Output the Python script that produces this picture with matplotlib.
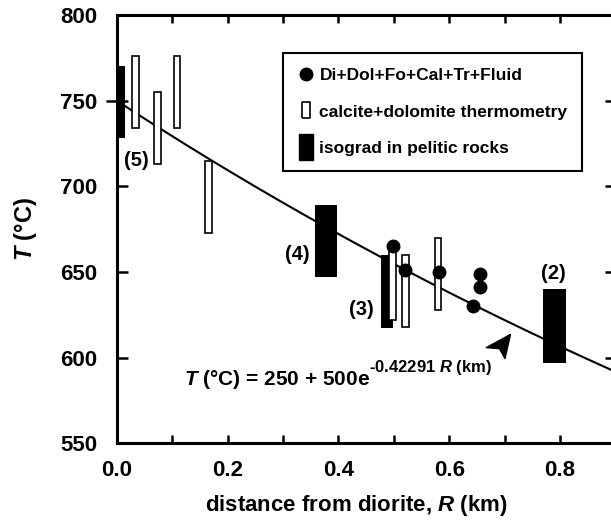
import numpy as np
import matplotlib
matplotlib.use("Agg")
import matplotlib.pyplot as plt
from matplotlib.lines import Line2D
from matplotlib.markers import MarkerStyle

plt.rcParams["font.family"] = ["Liberation Sans", "DejaVu Sans"]
plt.rcParams["font.weight"] = "bold"
plt.rcParams["mathtext.fontset"] = "custom"
plt.rcParams["mathtext.rm"] = "Liberation Sans:bold"
plt.rcParams["mathtext.it"] = "Liberation Sans:bold:italic"
plt.rcParams["mathtext.bf"] = "Liberation Sans:bold"

# ---------------------------------------------------------
# Data
# ---------------------------------------------------------

# isograds in pelitic rocks (black bars)
iso_R = [0.0, 0.377, 0.487, 0.790]
iso_lo = [728, 647, 617, 597]
iso_hi = [770, 689, 660, 640]
iso_width = [0.03, 0.040, 0.022, 0.042]
iso_names = ["(5)", "(4)", "(3)", "(2)"]
iso_label_R = [0.035, 0.325, 0.442, 0.788]
iso_label_T = [715, 660, 628, 649]

# calcite+dolomite thermometry (open bars)
calc_R = [0.034, 0.074, 0.109, 0.166, 0.498, 0.521, 0.580]
calc_lo = [734, 713, 734, 673, 622, 618, 628]
calc_hi = [776, 755, 776, 715, 666, 660, 670]

# Di+Dol+Fo+Cal+Tr+Fluid assemblages
dot_R = [0.498, 0.521, 0.581, 0.643, 0.655, 0.655]
dot_T = [665, 651, 650, 630, 641, 649]

# fitted curve T = T0 + A exp(-k R)
fit_T0, fit_A, fit_k = 250, 500, 0.42291

# arrowhead pointing at the curve
arrow_pos = (0.690, 607)

eq_pos = (0.122, 584)

xticks = [0.0, 0.2, 0.4, 0.6, 0.8]
yticks = [550, 600, 650, 700, 750, 800]

# ---------------------------------------------------------
# Plot
# ---------------------------------------------------------

fig = plt.figure(figsize=(6.11, 5.22), dpi=100)
ax = fig.add_axes([0.191, 0.1508, 0.8164, 0.8205])

rr = np.linspace(0, 0.9, 200)
ax.plot(rr, fit_T0 + fit_A * np.exp(-fit_k * rr), color="black", lw=1.5, zorder=2)

ax.bar(iso_R, np.subtract(iso_hi, iso_lo), bottom=iso_lo, width=iso_width,
       color="black", edgecolor="black", lw=0, zorder=3)
ax.bar(calc_R, np.subtract(calc_hi, calc_lo), bottom=calc_lo, width=0.012,
       facecolor="white", edgecolor="black", lw=1.2, zorder=4)
ax.plot(dot_R, dot_T, "o", color="black", ms=9, zorder=5)

for name, x, y in zip(iso_names, iso_label_R, iso_label_T):
    ax.text(x, y, name, ha="center", va="center", fontsize=14.5, fontweight="bold")

eq = ax.text(eq_pos[0], eq_pos[1], r"$\mathit{T}$ (°C) = 250 + 500e",
             ha="left", va="baseline", fontsize=15, fontweight="bold")
ax.annotate(r"-0.42291 $\mathit{R}$ (km)", xy=(1, 0), xycoords=eq,
            xytext=(-1, 14), textcoords="offset points",
            ha="left", va="baseline", fontsize=12, fontweight="bold")

# notched arrowhead (shape only, pointing up-right)
head = [(10, 11), (-12, -1), (0, -2), (5, -11), (10, 11)]
ax.plot(*arrow_pos, marker=MarkerStyle(head), color="black", ms=19,
        ls="none", zorder=5)

ax.set_xlim(0, 0.9)
ax.set_ylim(550, 800)
ax.set_xticks(xticks)
ax.set_xticks(np.arange(0.1, 0.9, 0.2), minor=True)
ax.set_yticks(yticks)
ax.set_xticklabels([f"{v:.1f}" for v in xticks])
ax.tick_params(axis="both", which="both", direction="in", width=1.8,
               labelsize=16, top=True, right=True)
ax.tick_params(axis="x", which="both", length=6, pad=12)
ax.tick_params(axis="y", length=8, pad=14)
for lab in ax.get_xticklabels() + ax.get_yticklabels():
    lab.set_fontweight("bold")

# the 750 tick crosses the left spine
t750 = ax.yaxis.get_major_ticks()[yticks.index(750)]
t750.tick1line.set_marker("_")
t750.tick1line.set_markersize(16)

for sp in ax.spines.values():
    sp.set_linewidth(2.2)

ax.set_xlabel(r"distance from diorite, $\mathit{R}$ (km)", fontsize=16,
              fontweight="bold", labelpad=9)
ax.xaxis.label.set_x(0.48)
ax.set_ylabel(r"$\mathit{T}$ (°C)", fontsize=17, fontweight="bold", labelpad=15)

rect_open = [(-0.27, -0.5), (0.27, -0.5), (0.27, 0.5), (-0.27, 0.5), (-0.27, -0.5)]
rect_full = [(-0.25, -0.5), (0.25, -0.5), (0.25, 0.5), (-0.25, 0.5), (-0.25, -0.5)]
handles = [
    Line2D([], [], ls="none", marker="o", color="black", ms=9),
    Line2D([], [], ls="none", marker=rect_open, markerfacecolor="white",
           markeredgecolor="black", markeredgewidth=1.2, ms=11),
    Line2D([], [], ls="none", marker=rect_full, color="black", ms=19),
]
labels = ["Di+Dol+Fo+Cal+Tr+Fluid", "calcite+dolomite thermometry",
          "isograd in pelitic rocks"]
leg = ax.legend(handles, labels, loc="upper left", bbox_to_anchor=(0.333, 0.911),
                borderaxespad=0, fancybox=False, edgecolor="black",
                framealpha=1, prop=dict(size=12.5, weight="bold"),
                handlelength=1.0, handletextpad=0.25, labelspacing=1.22,
                borderpad=0.86)
leg.get_frame().set_linewidth(1.5)

fig.savefig("out.png", dpi=100)
